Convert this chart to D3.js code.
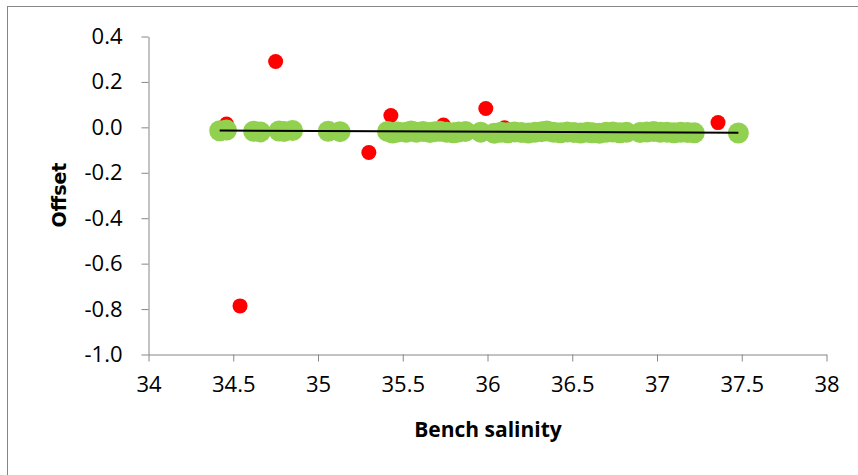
<!DOCTYPE html>
<html>
<head>
<meta charset="utf-8">
<script src="https://cdn.jsdelivr.net/npm/d3@7"></script>
<style>
  html, body { margin: 0; padding: 0; background: #fff; }
  svg { display: block; }
</style>
</head>
<body>
<svg id="chart" width="858" height="475"></svg>
<script>
// Accepted bench comparisons (green)
const goodSalinity = [34.42, 34.46, 34.62, 34.66, 34.77, 34.80, 34.85, 35.06, 35.13,
  35.41, 35.44, 35.47, 35.52, 35.55, 35.58, 35.62, 35.66, 35.69, 35.72, 35.76,
  35.80, 35.83, 35.87, 35.96, 36.04, 36.08, 36.12, 36.16, 36.20, 36.24, 36.28,
  36.32, 36.35, 36.39, 36.43, 36.47, 36.51, 36.55, 36.59, 36.62, 36.66, 36.70,
  36.74, 36.78, 36.82, 36.90, 36.94, 36.98, 37.02, 37.06, 37.10, 37.14, 37.18,
  37.22, 37.48];
const goodOffset = [-0.015, -0.012, -0.017, -0.020, -0.016, -0.018, -0.014, -0.017, -0.019,
  -0.018, -0.025, -0.020, -0.022, -0.016, -0.021, -0.018, -0.023, -0.019, -0.017, -0.022,
  -0.024, -0.020, -0.018, -0.021, -0.026, -0.022, -0.024, -0.020, -0.023, -0.025, -0.021,
  -0.019, -0.016, -0.022, -0.024, -0.020, -0.023, -0.025, -0.021, -0.024, -0.026, -0.022,
  -0.020, -0.024, -0.022, -0.023, -0.020, -0.018, -0.022, -0.021, -0.024, -0.022, -0.023,
  -0.024, -0.025];

// Rejected comparisons (red)
const badSalinity = [34.46, 34.54, 34.75, 35.30, 35.43, 35.74, 35.99, 36.10, 37.36];
const badOffset   = [0.015, -0.786, 0.290, -0.111, 0.052, 0.010, 0.083, -0.002, 0.021];

// Fitted offset line
const trendSalinity = [34.42, 37.48];
const trendOffset   = [-0.014, -0.024];

const xTicks = [34, 34.5, 35, 35.5, 36, 36.5, 37, 37.5, 38];
const yTicks = [0.4, 0.2, 0.0, -0.2, -0.4, -0.6, -0.8, -1.0];

const svg = d3.select("#chart");
const axisColor = "#868686";

// outer chart frame
svg.append("rect")
  .attr("x", 7.5).attr("y", 6.5)
  .attr("width", 900).attr("height", 500)
  .attr("fill", "none").attr("stroke", axisColor).attr("stroke-width", 1);

const x = d3.scaleLinear().domain([34, 38]).range([148.5, 826.5]);
const y = d3.scaleLinear().domain([-1.0, 0.4]).range([354.5, 36.5]);

const tickFont = "'Open Sans', 'Liberation Sans', sans-serif";

// y axis
const yAxis = svg.append("g")
  .attr("transform", `translate(${x.range()[0]},0)`)
  .call(d3.axisLeft(y).tickValues(yTicks).tickSize(7).tickSizeOuter(0).tickPadding(19)
    .tickFormat(d => d.toFixed(1)));

// x axis
const xAxis = svg.append("g")
  .attr("transform", `translate(0,${y.range()[0]})`)
  .call(d3.axisBottom(x).tickValues(xTicks).tickSize(7).tickSizeOuter(0).tickPadding(15)
    .tickFormat(d => String(d)));

[yAxis, xAxis].forEach(g => {
  g.select(".domain").attr("stroke", axisColor);
  g.selectAll(".tick line").attr("stroke", axisColor);
  g.selectAll(".tick text")
    .attr("fill", "#000")
    .style("font-family", tickFont)
    .style("font-size", "22px");
});

// rejected points
svg.append("g").selectAll("circle")
  .data(badSalinity.map((s, i) => [s, badOffset[i]]))
  .join("circle")
  .attr("cx", d => x(d[0]))
  .attr("cy", d => y(d[1]))
  .attr("r", 7.5)
  .attr("fill", "#FF0000");

// accepted points
svg.append("g").selectAll("circle")
  .data(goodSalinity.map((s, i) => [s, goodOffset[i]]))
  .join("circle")
  .attr("cx", d => x(d[0]))
  .attr("cy", d => y(d[1]))
  .attr("r", 10.5)
  .attr("fill", "#92D050");

// trend line
svg.append("path")
  .datum(trendSalinity.map((s, i) => [s, trendOffset[i]]))
  .attr("d", d3.line().x(d => x(d[0])).y(d => y(d[1])))
  .attr("fill", "none")
  .attr("stroke", "#000")
  .attr("stroke-width", 2);

// axis titles
svg.append("text")
  .attr("x", 488).attr("y", 437)
  .attr("text-anchor", "middle")
  .style("font-family", "'Open Sans', sans-serif")
  .style("font-weight", "bold")
  .style("font-size", "21px")
  .text("Bench salinity");

svg.append("text")
  .attr("transform", "translate(66,195) rotate(-90)")
  .attr("text-anchor", "middle")
  .style("font-family", "'DejaVu Sans', sans-serif")
  .style("font-weight", "bold")
  .style("font-size", "19px")
  .text("Offset");
</script>
</body>
</html>
